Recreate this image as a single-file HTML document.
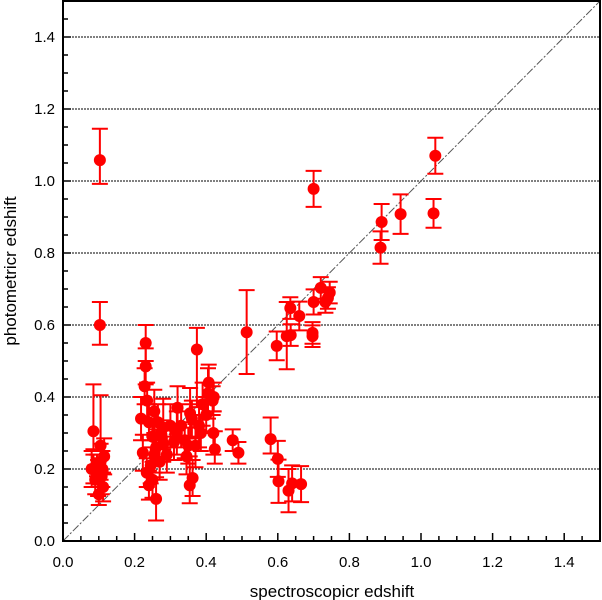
<!DOCTYPE html>
<html><head><meta charset="utf-8"><style>
html,body{margin:0;padding:0;background:#fff;}
svg{display:block;font-family:"Liberation Sans",Arial,sans-serif;}
</style></head><body>
<svg id="chart" width="602" height="600">
<g id="grid"></g>
<g id="diag"></g>
<g id="marks"></g>
<g id="axes"></g>
<text x="332" y="597" font-size="17" text-anchor="middle">spectroscopicr edshift</text>
<text transform="translate(16,271) rotate(-90)" font-size="17" text-anchor="middle">photometricr edshift</text>
</svg>
<script>
const xTicks=[0,0.2,0.4,0.6,0.8,1.0,1.2,1.4];
const yTicks=[0,0.2,0.4,0.6,0.8,1.0,1.2,1.4];
const xTickLabels=["0.0","0.2","0.4","0.6","0.8","1.0","1.2","1.4"];
const yTickLabels=["0.0","0.2","0.4","0.6","0.8","1.0","1.2","1.4"];
const specZ=[0.103,0.103,1.04,1.035,0.70,0.89,0.887,0.943,0.513,0.597,0.625,0.636,0.635,0.66,0.70,0.72,0.74,0.745,0.733,0.697,0.697,
0.49,0.474,0.58,0.60,0.602,0.63,0.665,0.64,
0.374,0.407,0.421,0.418,0.318,0.32,0.33,0.355,0.38,0.37,0.35,0.354,0.362,0.42,0.424,0.40,0.39,0.36,0.34,0.385,0.345,0.31,0.405,0.30,
0.231,0.231,0.228,0.218,0.255,0.28,0.235,0.223,0.234,0.26,0.25,0.26,0.27,0.245,0.24,0.265,0.28,0.25,0.24,0.29,0.255,0.275,
0.085,0.105,0.08,0.09,0.098,0.105,0.11,0.112,0.108,0.085,0.115,0.10,0.095];
const photZ=[1.058,0.60,1.07,0.91,0.978,0.886,0.815,0.908,0.58,0.542,0.569,0.572,0.647,0.625,0.664,0.703,0.675,0.69,0.664,0.569,0.578,
0.245,0.28,0.283,0.228,0.166,0.14,0.158,0.16,
0.532,0.44,0.40,0.39,0.30,0.37,0.32,0.355,0.32,0.265,0.265,0.155,0.175,0.30,0.255,0.35,0.38,0.34,0.28,0.30,0.235,0.275,0.41,0.32,
0.55,0.485,0.43,0.34,0.36,0.315,0.39,0.245,0.19,0.117,0.29,0.26,0.22,0.21,0.33,0.33,0.27,0.17,0.155,0.24,0.24,0.295,
0.305,0.265,0.20,0.17,0.175,0.22,0.20,0.15,0.18,0.20,0.235,0.13,0.21];
const errLo=[0.066,0.055,0.05,0.04,0.05,0.05,0.045,0.055,0.116,0.04,0.092,0.03,0.03,0.04,0.035,0.03,0.03,0.03,0.03,0.03,0.03,
0.03,0.03,0.04,0.05,0.06,0.06,0.05,0.05,
0.16,0.05,0.04,0.04,0.06,0.06,0.06,0.07,0.06,0.06,0.05,0.05,0.05,0.06,0.04,0.05,0.06,0.05,0.05,0.05,0.05,0.05,0.07,0.06,
0.05,0.05,0.05,0.06,0.06,0.06,0.05,0.05,0.04,0.06,0.05,0.05,0.05,0.05,0.05,0.05,0.05,0.05,0.04,0.05,0.05,0.04,
0.05,0.07,0.05,0.04,0.05,0.05,0.05,0.04,0.05,0.04,0.05,0.03,0.03];
const errHi=[0.087,0.064,0.05,0.04,0.05,0.05,0.045,0.055,0.117,0.04,0.095,0.03,0.03,0.04,0.035,0.03,0.03,0.03,0.03,0.03,0.03,
0.03,0.03,0.06,0.05,0.06,0.06,0.05,0.05,
0.06,0.05,0.04,0.04,0.06,0.06,0.06,0.07,0.06,0.06,0.05,0.08,0.05,0.06,0.05,0.05,0.06,0.05,0.05,0.05,0.05,0.05,0.07,0.06,
0.05,0.05,0.05,0.06,0.06,0.08,0.05,0.05,0.04,0.06,0.05,0.05,0.05,0.05,0.05,0.05,0.05,0.05,0.04,0.05,0.05,0.04,
0.13,0.14,0.05,0.04,0.05,0.05,0.05,0.04,0.05,0.04,0.05,0.03,0.03];

const NS="http://www.w3.org/2000/svg";
const L=63,R=600,T=1,B=541,MAX=1.5;
const sx=v=>L+v*(R-L)/MAX;
const sy=v=>B-v*(B-T)/MAX;
function mk(tag,attrs,parent){const e=document.createElementNS(NS,tag);for(const k in attrs)e.setAttribute(k,attrs[k]);parent.appendChild(e);return e;}
const grid=document.getElementById('grid'),diag=document.getElementById('diag'),marks=document.getElementById('marks'),axes=document.getElementById('axes');
yTicks.forEach(v=>{if(v===0)return;
 const g=mk('line',{x1:L,x2:R,y1:sy(v),y2:sy(v),stroke:'#000','stroke-width':1,'stroke-dasharray':'2,1'},grid);
 
 });
const d=mk('line',{x1:sx(0),y1:sy(0),x2:sx(MAX),y2:sy(MAX),stroke:'#555','stroke-width':1,'stroke-dasharray':'8,2,2,2'},diag);


specZ.forEach((x,i)=>{
 const y=photZ[i],cx=sx(x),yl=sy(y-errLo[i]),yh=sy(y+errHi[i]);
 const g=mk('g',{stroke:'#f00','stroke-width':2,fill:'#f00'},marks);
 
 
 mk('line',{x1:cx,x2:cx,y1:yl,y2:yh},g);
 mk('line',{x1:cx-8,x2:cx+8,y1:yl,y2:yl},g);
 mk('line',{x1:cx-8,x2:cx+8,y1:yh,y2:yh},g);
 mk('circle',{cx:cx,cy:sy(y),r:6,stroke:'none'},g);
});
mk('rect',{x:L,y:T,width:R-L,height:B-T,fill:'none',stroke:'#000','stroke-width':2},axes);
for(let k=0;k<=30;k++){const v=k*0.05,maj=k%4===0;
 mk('line',{x1:sx(v),x2:sx(v),y1:B,y2:B-(maj?8:5),stroke:'#000','stroke-width':1.5},axes);
 mk('line',{x1:L,x2:L+(maj?8:5),y1:sy(v),y2:sy(v),stroke:'#000','stroke-width':1.5},axes);}
xTicks.forEach((v,i)=>{const t=mk('text',{x:sx(v),y:567,'font-size':15,'text-anchor':'middle'},axes);t.textContent=xTickLabels[i];
 
 });
yTicks.forEach((v,i)=>{const t=mk('text',{x:55,y:sy(v)+5,'font-size':15,'text-anchor':'end'},axes);t.textContent=yTickLabels[i];
 
 });
</script>
</body></html>
